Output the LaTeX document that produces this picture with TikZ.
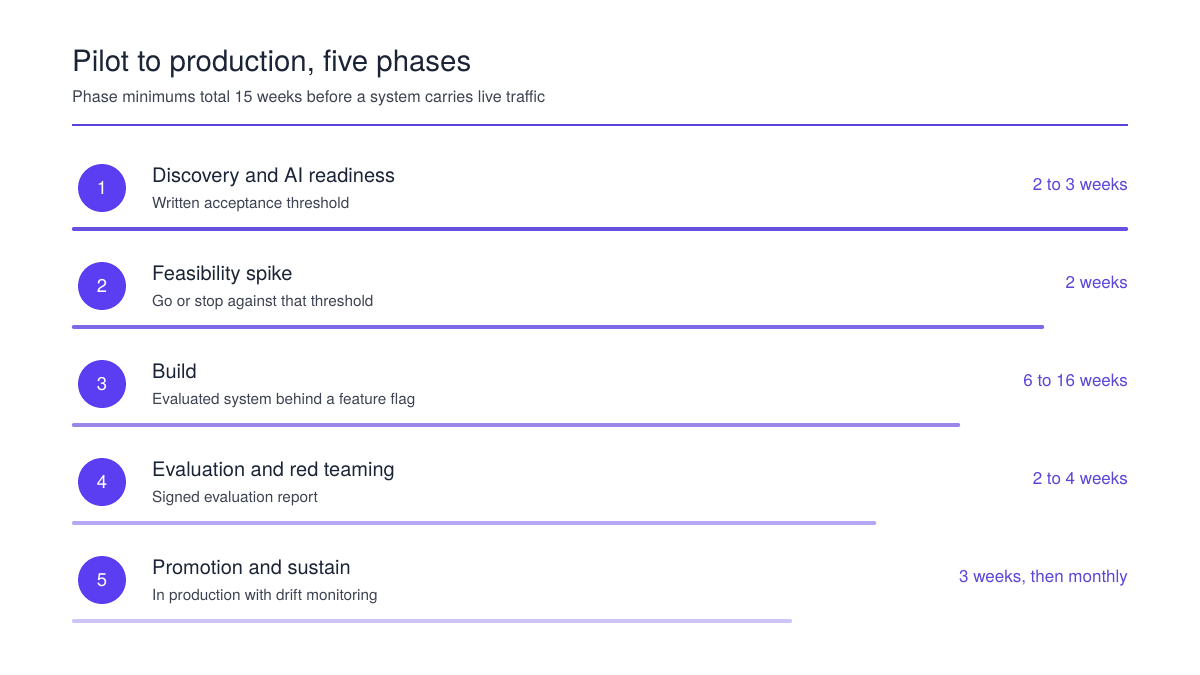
\documentclass[tikz,border=0pt]{standalone}
\usepackage{fontspec}
\setmainfont{TeX Gyre Heros}
\usepackage{tikz}
\usetikzlibrary{positioning}
\definecolor{ink}{HTML}{1B2436}
\definecolor{muted}{HTML}{3D4352}
\definecolor{accent}{HTML}{5B3DF2}
\definecolor{durcol}{HTML}{5A46D8}
\definecolor{rulecol}{HTML}{5B44DD}
\definecolor{barA}{HTML}{6650E0}
\definecolor{barB}{HTML}{7E68E8}
\definecolor{barC}{HTML}{9B87EC}
\definecolor{barD}{HTML}{B5A7F1}
\definecolor{barE}{HTML}{CEC5F6}
\tikzstyle{headline} = [anchor=base west, inner sep=0pt, text=ink, font=\fontsize{29.4}{34}\selectfont]
\tikzstyle{subhead} = [anchor=base west, inner sep=0pt, text=muted, font=\fontsize{16.1}{19}\selectfont]
\tikzstyle{badge} = [circle, minimum size=48pt, inner sep=0pt, fill=accent, text=white, font=\fontsize{18.5}{22}\selectfont]
\tikzstyle{phasename} = [anchor=base west, inner sep=0pt, text=ink, font=\fontsize{20}{24}\selectfont]
\tikzstyle{phasenote} = [anchor=base west, inner sep=0pt, text=muted, font=\fontsize{15.3}{18}\selectfont]
\tikzstyle{duration} = [anchor=base east, inner sep=0pt, text=durcol, font=\fontsize{17}{20}\selectfont]
\tikzstyle{toprule} = [line width=2.2pt, draw=rulecol]
\tikzstyle{bar} = [line width=3.4pt, line cap=round]

\begin{document}
\begin{tikzpicture}[x=1pt, y=-1pt]
      \useasboundingbox [fill=white] (0,0) rectangle (1200,675);
      \node (title) [headline] at (72,71) {Pilot to production, five phases};
      \node (subtitle) [subhead] at (72,102) {Phase minimums total 15 weeks before a system carries live traffic};
      \draw [toprule] (72,125) -- (1128,125);
      % phase 1
      \node (n1) [badge] at (102,188) {1};
      \node (p1) [phasename] at (152,182) {Discovery and AI readiness};
      \node (d1) [phasenote] at (152,208) {Written acceptance threshold};
      \node (w1) [duration] at (1128,190.5) {2 to 3 weeks};
      \draw [bar, draw=barA] (73.5,229) -- (1126.5,229);
      % phase 2
      \node (n2) [badge] at (102,286) {2};
      \node (p2) [phasename] at (152,280) {Feasibility spike};
      \node (d2) [phasenote] at (152,306) {Go or stop against that threshold};
      \node (w2) [duration] at (1128,288.5) {2 weeks};
      \draw [bar, draw=barB] (73.5,327) -- (1042.5,327);
      % phase 3
      \node (n3) [badge] at (102,384) {3};
      \node (p3) [phasename] at (152,378) {Build};
      \node (d3) [phasenote] at (152,404) {Evaluated system behind a feature flag};
      \node (w3) [duration] at (1128,386.5) {6 to 16 weeks};
      \draw [bar, draw=barC] (73.5,425) -- (958.5,425);
      % phase 4
      \node (n4) [badge] at (102,482) {4};
      \node (p4) [phasename] at (152,476) {Evaluation and red teaming};
      \node (d4) [phasenote] at (152,502) {Signed evaluation report};
      \node (w4) [duration] at (1128,484.5) {2 to 4 weeks};
      \draw [bar, draw=barD] (73.5,523) -- (874.5,523);
      % phase 5
      \node (n5) [badge] at (102,580) {5};
      \node (p5) [phasename] at (152,574) {Promotion and sustain};
      \node (d5) [phasenote] at (152,600) {In production with drift monitoring};
      \node (w5) [duration] at (1128,582.5) {3 weeks, then monthly};
      \draw [bar, draw=barE] (73.5,621) -- (790.5,621);
    \end{tikzpicture}
\end{document}
